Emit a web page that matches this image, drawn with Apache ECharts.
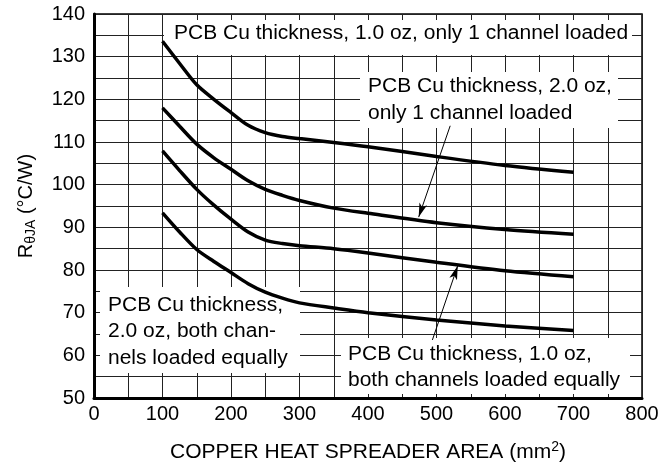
<!DOCTYPE html>
<html>
<head>
<meta charset="utf-8">
<script src="https://cdn.jsdelivr.net/npm/echarts@6/dist/echarts.min.js"></script>
<style>
  html, body { margin: 0; padding: 0; background: #fff; }
  #chart { width: 669px; height: 463px; }
</style>
</head>
<body>
<div id="chart"></div>
<script>
// copper area (mm2) and R theta JA for the four curves
var areas = [100, 125, 150, 175, 200, 225, 250, 275, 300, 350, 400, 500, 600, 700];
var oz1OneCh = [133.6, 128.4, 123.4, 120.0, 116.9, 113.9, 112.2, 111.3, 110.8, 109.9, 108.9, 106.6, 104.5, 102.9];
var oz2OneCh = [118.0, 113.7, 109.5, 106.3, 103.6, 100.9, 98.9, 97.5, 96.3, 94.5, 93.3, 91.1, 89.5, 88.4];
var oz1BothCh = [107.9, 103.3, 98.9, 95.2, 91.9, 88.9, 87.0, 86.2, 85.7, 85.0, 84.0, 81.8, 79.8, 78.4];
var oz2BothCh = [93.4, 88.9, 84.8, 82.0, 79.4, 76.8, 74.8, 73.4, 72.3, 71.1, 70.0, 68.3, 66.9, 65.8];

function pairs(xs, ys) {
  return xs.map(function (x, i) { return [x, ys[i]]; });
}

var FONT = "'Liberation Sans', Arial, sans-serif";
var myChart = echarts.init(document.getElementById("chart"));

// label box: white rect + text lines
function labelBox(x, y, w, h, lines, tx, ty) {
  return {
    type: "group",
    children: [
      { type: "rect", z: 1, shape: { x: x, y: y, width: w, height: h }, style: { fill: "#fff" } },
      {
        type: "text", z: 5, x: tx, y: ty, scaleX: 1.05,
        style: { text: lines.join("\n"), font: "20px " + FONT, fill: "#000", lineHeight: 26.6, textVerticalAlign: "top" }
      }
    ]
  };
}

var arrowLine = {
  silent: true,
  symbol: ["none", "arrow"],
  symbolSize: [6, 14],
  lineStyle: { color: "#000", width: 1, type: "solid" },
  label: { show: false },
  emphasis: { disabled: true }
};

function curve(name, ys) {
  return {
    name: name, type: "line", smooth: 0.3, showSymbol: false, z: 3,
    lineStyle: { color: "#000", width: 3.5 }, data: pairs(areas, ys)
  };
}

var s2 = curve("2.0 oz, 1 channel", oz2OneCh);
s2.markLine = Object.assign({}, arrowLine, { data: [[{ coord: [520, 113.8] }, { coord: [474, 92.4] }]] });
var s3 = curve("1.0 oz, both channels", oz1BothCh);
s3.markLine = Object.assign({}, arrowLine, { data: [[{ coord: [494, 63.6] }, { coord: [531, 81.0] }]] });

var option = {
  animation: false,
  grid: { left: 94, right: 27, top: 14, bottom: 65, outerBoundsMode: "none", containLabel: false,
    show: true, borderColor: "#000", borderWidth: 1.5 },
  xAxis: {
    type: "value", min: 0, max: 800, interval: 50,
    name: "COPPER HEAT SPREADER AREA (mm{sup|2})",
    nameLocation: "middle", nameGap: 42,
    nameTextStyle: { fontFamily: FONT, fontSize: 21, color: "#000",
      rich: { sup: { fontFamily: FONT, fontSize: 14, color: "#000", padding: [0, 0, 10, 0] } } },
    axisLine: { lineStyle: { color: "#000", width: 3 } },
    axisTick: { show: false },
    axisLabel: { color: "#000", fontFamily: FONT, fontSize: 20, margin: 6,
      formatter: function (v) { return v % 100 === 0 ? String(v) : ""; } },
    splitLine: { show: true, lineStyle: { color: "#222", width: 1 } }
  },
  yAxis: {
    type: "value", min: 50, max: 140, interval: 5,
    name: "R{sub|θJA} (°C/W)",
    nameLocation: "middle", nameGap: 56, nameRotate: 90,
    nameTextStyle: { fontFamily: FONT, fontSize: 20, color: "#000",
      rich: { sub: { fontFamily: FONT, fontSize: 14, color: "#000", padding: [9, 0, 0, 0] } } },
    axisLine: { show: true, lineStyle: { color: "#000", width: 3 } },
    axisTick: { show: false },
    axisLabel: { color: "#000", fontFamily: FONT, fontSize: 20, margin: 9,
      formatter: function (v) { return v % 10 === 0 ? String(v) : ""; } },
    splitLine: { show: true, lineStyle: { color: "#222", width: 1 } }
  },
  graphic: [
    labelBox(164, 20, 468, 35, ["PCB Cu thickness, 1.0 oz, only 1 channel loaded"], 174, 20),
    labelBox(360, 72, 258, 56, ["PCB Cu thickness, 2.0 oz,", "only 1 channel loaded"], 368, 73.4),
    labelBox(100, 287, 200, 86, ["PCB Cu thickness,", "2.0 oz, both chan-", "nels loaded equally"], 108, 291.7),
    labelBox(341, 338, 289, 56, ["PCB Cu thickness, 1.0 oz,", "both channels loaded equally"], 348, 340.7)
  ],
  series: [curve("1.0 oz, 1 channel", oz1OneCh), s2, s3, curve("2.0 oz, both channels", oz2BothCh)]
};

myChart.setOption(option);
window.addEventListener("resize", function () {
  myChart.resize();
});
</script>
</body>
</html>
